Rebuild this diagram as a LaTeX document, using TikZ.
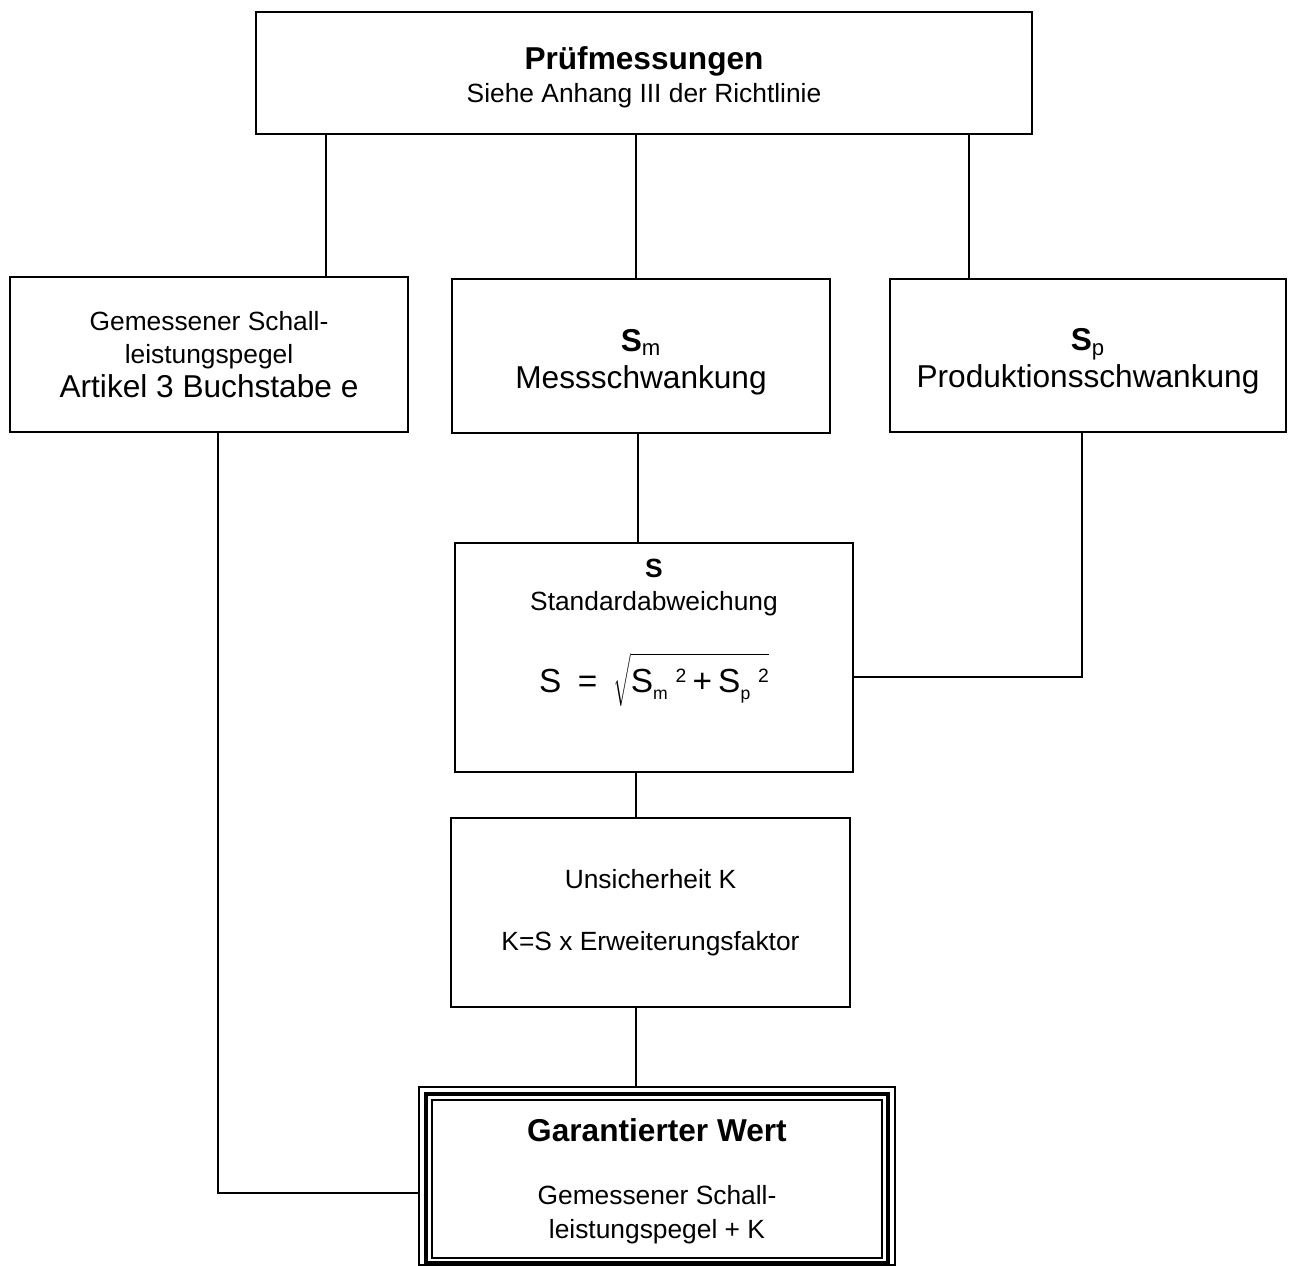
\documentclass[tikz,border=0pt]{standalone}
\usepackage{fontspec}
\setmainfont{Liberation Sans}
\usetikzlibrary{calc}

\newcommand{\nsize}{\fontsize{15}{19}\selectfont}
\newcommand{\lsize}{\fontsize{18}{21}\selectfont}
\newcommand{\fsize}{\fontsize{19}{23}\selectfont}
\newcommand{\subm}[1]{\raisebox{-4pt}{\fontsize{10}{12}\selectfont #1}}
\newcommand{\supt}{\hspace{4.5pt}\raisebox{5.7pt}{\fontsize{11}{12}\selectfont 2}}

\tikzset{
    box/.style={draw, line width=1.1pt, align=center, inner sep=0pt, font=\nsize},
    boxsize/.style 2 args={minimum width=#1*0.02cm, minimum height=#2*0.02cm},
    link/.style={line width=0.9pt}
}

\begin{document}
\begin{tikzpicture}[x=0.02cm, y=-0.02cm]
    \useasboundingbox (0,0) rectangle (1289,1266);

    % Boxes
    \node[box, boxsize={776}{122}] (pruef) at (644,73)
        {\lsize\rule{0pt}{17.7pt}\textbf{Prüfmessungen}\\Siehe Anhang III der Richtlinie};
    \node[box, boxsize={398}{155}] (schall) at (209,354.5)
        {Gemessener Schall-\\leistungspegel\\{\lsize Artikel 3 Buchstabe e}};
    \node[box, boxsize={378}{154}, font=\lsize] (sm) at (641,356)
        {\rule{0pt}{19.5pt}\textbf{S}\textsubscript{m}\\Messschwankung};
    \node[box, boxsize={396}{153}, font=\lsize] (sp) at (1088,355.5)
        {\rule{0pt}{19.5pt}\textbf{S}\textsubscript{p}\\Produktionsschwankung};
    \node[box, boxsize={398}{229}] (std) at (654,657.5)
        {\textbf{S}\\Standardabweichung\\[20pt]
         {\fsize S\hspace{9.5pt}=\hspace{9pt}$\sqrt{\mbox{\rule{0pt}{19.5pt}S\subm{m}\supt\hspace{3.5pt}+\hspace{3.5pt}S\subm{p}\supt}}$}\\[17.3pt]\mbox{}};
    \node[box, boxsize={399}{189}] (unsich) at (650.5,912.5)
        {Unsicherheit K\\[16pt]K=S x Erweiterungsfaktor};
    \node[box, boxsize={476}{178}] (garant) at (657,1176)
        {\lsize\rule{0pt}{18.8pt}\textbf{Garantierter Wert}\\[17pt]\nsize Gemessener Schall-\\\nsize leistungspegel + K};

    % Triple frame of the result box
    \draw[line width=2.2pt] ($(garant.south west)+(8,-3)$) rectangle ($(garant.north east)+(-8,8)$);
    \draw[line width=1pt] ($(garant.south west)+(14,-8)$) rectangle ($(garant.north east)+(-14,14)$);

    % Connector positions
    \coordinate (c1) at (326,0);
    \coordinate (c2) at (636,0);
    \coordinate (c3) at (969,0);
    \coordinate (c4) at (638,0);
    \coordinate (c5) at (1082,677);
    \coordinate (c6) at (636,0);
    \coordinate (c7) at (218,1193);

    % Connectors
    \draw[link] (c1 |- pruef.south) -- (c1 |- schall.north);
    \draw[link] (c2 |- pruef.south) -- (c2 |- sm.north);
    \draw[link] (c3 |- pruef.south) -- (c3 |- sp.north);
    \draw[link] (c4 |- sm.south) -- (c4 |- std.north);
    \draw[link] (c5 |- sp.south) -- (c5) -- (c5 -| std.east);
    \draw[link] (c6 |- std.south) -- (c6 |- unsich.north);
    \draw[link] (c6 |- unsich.south) -- (c6 |- garant.north);
    \draw[link] (c7 |- schall.south) -- (c7) -- (c7 -| garant.west);
\end{tikzpicture}
\end{document}
